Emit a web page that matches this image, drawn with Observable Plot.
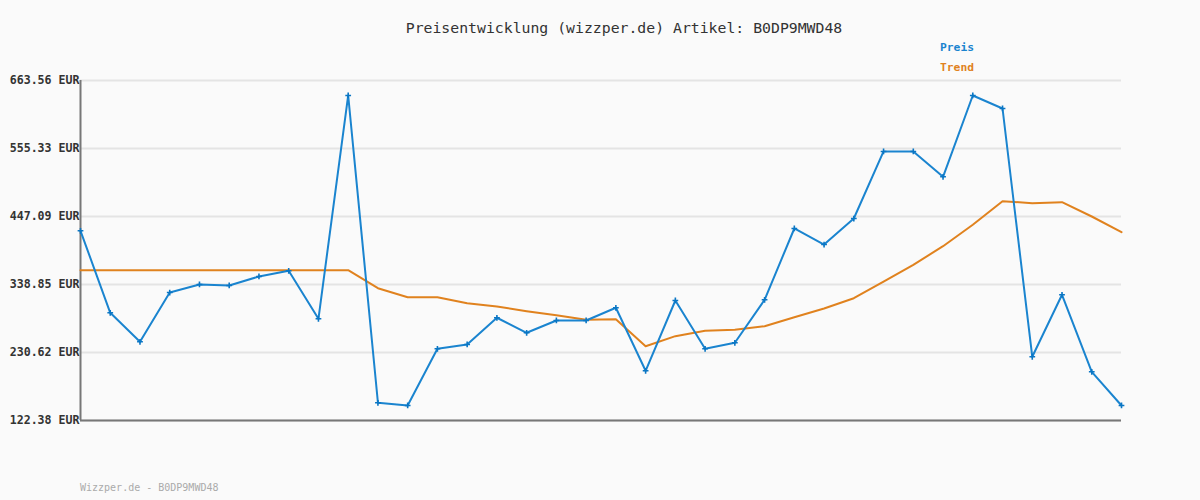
<!DOCTYPE html>
<html>
<head>
<meta charset="utf-8">
<script src="https://cdn.jsdelivr.net/npm/d3@7"></script>
<script src="https://cdn.jsdelivr.net/npm/@observablehq/plot@0.6"></script>
<style>
  html, body { margin: 0; padding: 0; background: #fafafa; }
  #chart svg { display: block; background: #fafafa; }
</style>
</head>
<body>
<div id="chart"></div>
<script>
const titleText = "Preisentwicklung (wizzper.de) Artikel: B0DP9MWD48";
const footerText = "Wizzper.de - B0DP9MWD48";
const seriesNames = ["Preis", "Trend"];
const seriesColors = ["#1a84cf", "#e0821e"];
const yTicks = [122.38, 230.62, 338.85, 447.09, 555.33, 663.56];

const preis = [424.3, 293.8, 247.7, 326.1, 338.9, 337.3, 351.6, 360.7, 284.3, 639.7,
  150.6, 146.3, 236.5, 243.4, 285.9, 262.0, 281.6, 281.6, 301.8, 201.5,
  313.4, 236.5, 246.1, 314.5, 428.0, 402.5, 443.9, 550.6, 550.6, 510.3,
  639.7, 619.0, 223.8, 322.5, 199.9, 146.3];
const trend = [361.6, 361.6, 361.6, 361.6, 361.6, 361.6, 361.6, 361.6, 361.6, 361.6,
  333.0, 318.6, 318.6, 309.1, 303.8, 296.4, 290.0, 282.7, 283.6, 240.6,
  256.6, 265.2, 266.7, 272.5, 286.8, 300.6, 317.0, 343.6, 370.2, 399.8,
  433.9, 471.5, 468.3, 469.9, 447.1, 422.1];

const preisData = preis.map((v, i) => ({i, v}));
const trendData = trend.map((v, i) => ({i, v}));

const W = 1200, H = 500;
const chart = Plot.plot({
  width: W,
  height: H,
  marginLeft: 80,
  marginRight: 79,
  marginTop: 80,
  marginBottom: 80,
  style: {background: "#fafafa", fontFamily: "'DejaVu Sans Mono', monospace"},
  x: {domain: [0, preis.length - 1], axis: null},
  y: {domain: [yTicks[0], yTicks[yTicks.length - 1]], axis: null},
  marks: [
    Plot.gridY(yTicks, {stroke: "#e4e4e4", strokeOpacity: 1, strokeWidth: 2}),
    Plot.axisY(yTicks, {
      tickSize: 0, tickPadding: 1,
      tickFormat: d => d.toFixed(2) + " EUR",
      fontSize: 11.6, fontWeight: "bold", fill: "#333", label: null
    }),
    Plot.ruleX([0], {stroke: "#777", strokeWidth: 2}),
    Plot.ruleY([yTicks[0]], {stroke: "#777", strokeWidth: 2}),
    Plot.line(trendData, {x: "i", y: "v", stroke: seriesColors[1], strokeWidth: 2}),
    Plot.line(preisData, {x: "i", y: "v", stroke: seriesColors[0], strokeWidth: 2}),
    Plot.dot(preisData, {x: "i", y: "v", symbol: "plus", r: 2, stroke: "#0a76c4", strokeWidth: 1.6})
  ]
});

const svg = d3.select(chart);
svg.append("text")
  .attr("x", 624).attr("y", 33)
  .attr("text-anchor", "middle")
  .attr("font-family", "'DejaVu Sans Mono', monospace")
  .attr("font-size", 14.8)
  .attr("fill", "#333")
  .text(titleText);
seriesNames.forEach((name, k) => {
  svg.append("text")
    .attr("x", 940).attr("y", 51 + k * 20)
    .attr("text-anchor", "start")
    .attr("font-family", "'DejaVu Sans Mono', monospace")
    .attr("font-size", 11.3)
    .attr("font-weight", "bold")
    .attr("fill", seriesColors[k])
    .text(name);
});
svg.append("text")
  .attr("x", 80).attr("y", 491)
  .attr("text-anchor", "start")
  .attr("font-family", "'DejaVu Sans Mono', monospace")
  .attr("font-size", 10)
  .attr("fill", "#aaa")
  .text(footerText);

document.getElementById("chart").appendChild(chart);
</script>
</body>
</html>
